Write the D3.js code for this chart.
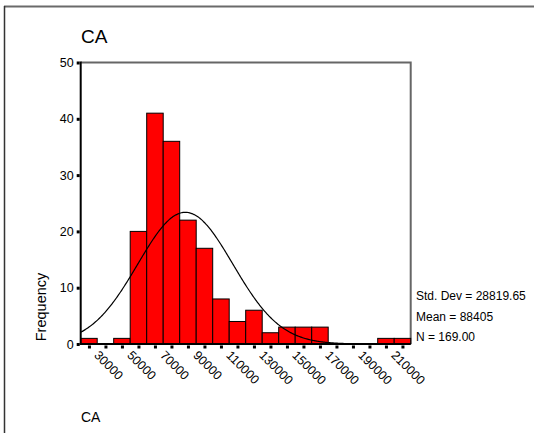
<!DOCTYPE html>
<html>
<head>
<meta charset="utf-8">
<script src="https://cdn.jsdelivr.net/npm/d3@7"></script>
<style>
  html, body { margin: 0; padding: 0; background: #fff; }
  svg { display: block; font-family: "Liberation Sans", Arial, sans-serif; }
</style>
</head>
<body>
<svg id="chart" width="534" height="433"></svg>
<script>
// ---- data ----
const binMidpoints = [30000, 40000, 50000, 60000, 70000, 80000, 90000, 100000, 110000, 120000,
                      130000, 140000, 150000, 160000, 170000, 180000, 190000, 200000, 210000, 220000];
const frequencies = [1, 0, 1, 20, 41, 36, 22, 17, 8, 4, 6, 2, 3, 3, 3, 0, 0, 0, 1, 1];
const xTickLabels = [30000, 50000, 70000, 90000, 110000, 130000, 150000, 170000, 190000, 210000];
const yTickValues = [0, 10, 20, 30, 40, 50];
const binWidth = 10000;
const stdDev = 28819.65;
const mean = 88405;
const nCount = 169;
const statLines = ["Std. Dev = 28819.65", "Mean = 88405", "N = 169.00"];
const title = "CA";
const xTitle = "CA";
const yTitle = "Frequency";

// ---- layout ----
const svg = d3.select("#chart");
const L = 80.7, R = 410.7, T = 62.5, B = 344;

const x = d3.scaleLinear().domain([25000, 225000]).range([L, R]);
const y = d3.scaleLinear().domain([0, 50]).range([B, T]);

// outer frame (top + left only)
svg.append("line").attr("x1", 4).attr("x2", 534).attr("y1", 6.5).attr("y2", 6.5)
  .attr("stroke", "#6a6a6a").attr("stroke-width", 2);
svg.append("line").attr("x1", 4.5).attr("x2", 4.5).attr("y1", 6).attr("y2", 433)
  .attr("stroke", "#333").attr("stroke-width", 1.5);

// title
svg.append("text").attr("x", 81).attr("y", 43).attr("font-size", 19).attr("fill", "#000").text(title);

// plot frame (top, right grey)
svg.append("path")
  .attr("d", `M${L},${T}H${R}V${B}`)
  .attr("fill", "none").attr("stroke", "#666").attr("stroke-width", 2);

// clip for curve
svg.append("clipPath").attr("id", "clip").append("rect")
  .attr("x", L).attr("y", T).attr("width", R - L).attr("height", B - T);

// bars
svg.append("g").selectAll("rect").data(frequencies.map((f, i) => ({ m: binMidpoints[i], f })))
  .join("rect")
  .filter(d => d.f > 0)
  .attr("x", d => x(d.m - binWidth / 2))
  .attr("width", d => x(d.m + binWidth / 2) - x(d.m - binWidth / 2))
  .attr("y", d => y(d.f))
  .attr("height", d => y(0) - y(d.f))
  .attr("fill", "#ff0000").attr("stroke", "#000").attr("stroke-width", 1);

// normal curve (fitted from mean, std dev, N)
const pts = d3.range(25000, 225001, 500).map(v => {
  const z = (v - mean) / stdDev;
  return [v, nCount * binWidth / (stdDev * Math.sqrt(2 * Math.PI)) * Math.exp(-0.5 * z * z)];
});
svg.append("path")
  .datum(pts)
  .attr("clip-path", "url(#clip)")
  .attr("d", d3.line().x(d => x(d[0])).y(d => y(d[1])).curve(d3.curveBasis))
  .attr("fill", "none").attr("stroke", "#000").attr("stroke-width", 1.2);

// y axis
const yAxis = d3.axisLeft(y).tickValues(yTickValues).tickSize(0).tickPadding(7);
const gy = svg.append("g").attr("transform", `translate(${L},0)`).call(yAxis);
gy.select(".domain").remove();
gy.selectAll("text").attr("font-size", 12.5).attr("font-family", "Liberation Sans, Arial, sans-serif").attr("fill", "#000");
gy.selectAll(".tick").append("rect").attr("x", -4).attr("y", -1.5).attr("width", 3).attr("height", 3).attr("fill", "#000");
svg.append("line").attr("x1", L).attr("x2", L).attr("y1", T - 1).attr("y2", B + 1)
  .attr("stroke", "#000").attr("stroke-width", 2);

// x axis
const xAxis = d3.axisBottom(x).tickValues(binMidpoints).tickSize(0).tickFormat(d => xTickLabels.includes(d) ? d : "");
const gx = svg.append("g").attr("transform", `translate(0,${B})`).call(xAxis);
gx.select(".domain").remove();
gx.selectAll(".tick").append("rect").attr("x", -1.5).attr("y", 1.5).attr("width", 3).attr("height", 3).attr("fill", "#000");
gx.selectAll("text")
  .attr("font-size", 12.5).attr("font-family", "Liberation Sans, Arial, sans-serif").attr("fill", "#000")
  .attr("text-anchor", "start").attr("dy", null).attr("y", 0)
  .attr("transform", "translate(4,12) rotate(45)");
svg.append("line").attr("x1", L - 1).attr("x2", R).attr("y1", B).attr("y2", B)
  .attr("stroke", "#000").attr("stroke-width", 2);

// axis titles
svg.append("text").attr("transform", `translate(46,307) rotate(-90)`)
  .attr("text-anchor", "middle").attr("font-size", 14.5).attr("fill", "#000").text(yTitle);
svg.append("text").attr("x", 81).attr("y", 422).attr("font-size", 14).attr("fill", "#000").text(xTitle);

// stats
svg.append("g").selectAll("text").data(statLines).join("text")
  .attr("x", 416).attr("y", (d, i) => 300 + i * 20.5)
  .attr("font-size", 12).attr("fill", "#000").text(d => d);
</script>
</body>
</html>
